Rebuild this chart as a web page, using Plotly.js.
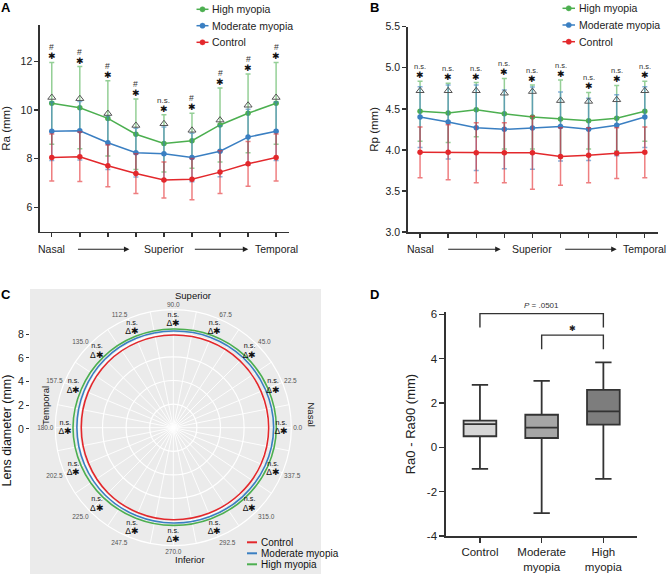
<!DOCTYPE html>
<html><head><meta charset="utf-8">
<script src="https://cdn.plot.ly/plotly-3.0.1.min.js"></script>
<style>html,body{margin:0;padding:0;background:#fff}#chart{width:669px;height:574px}</style>
</head><body><div id="chart"></div>
<script>
// ---------- data ----------
const meridians = ['0','22.5','45','67.5','90','112.5','135','157.5','180'];
const seriesNames = ['High myopia','Moderate myopia','Control'];

// Panel A : Ra (mm)
const raHigh    = [10.28, 10.10, 9.66, 9.01, 8.63, 8.74, 9.39, 9.87, 10.28];
const raHighSd  = [1.68, 1.69, 1.55, 1.45, 1.18, 1.13, 1.52, 1.62, 1.68];
const raMod     = [9.13, 9.15, 8.66, 8.25, 8.21, 8.05, 8.31, 8.89, 9.13];
const raModSd   = [1.20, 1.20, 1.10, 1.00, 1.10, 1.00, 1.05, 1.15, 1.20];
const raCtrl    = [8.05, 8.08, 7.71, 7.39, 7.13, 7.16, 7.45, 7.79, 8.05];
const raCtrlSd  = [0.97, 1.02, 0.86, 0.82, 0.74, 0.85, 0.88, 0.92, 0.97];
const raTri     = [10.52, 10.47, 9.86, 9.37, 9.44, 9.17, 9.59, 10.20, 10.52];
const raTopMark = ['#','#','#','#','n.s.','#','#','#','#'];

// Panel B : Rp (mm)
const rpHigh    = [4.47, 4.45, 4.49, 4.44, 4.40, 4.375, 4.355, 4.385, 4.47];
const rpHighSd  = [0.365, 0.36, 0.33, 0.43, 0.39, 0.475, 0.345, 0.40, 0.365];
const rpMod     = [4.40, 4.34, 4.27, 4.25, 4.265, 4.285, 4.25, 4.30, 4.40];
const rpModSd   = [0.37, 0.45, 0.52, 0.48, 0.50, 0.42, 0.38, 0.37, 0.37];
const rpCtrl    = [3.97, 3.97, 3.965, 3.965, 3.965, 3.92, 3.935, 3.96, 3.97];
const rpCtrlSd  = [0.31, 0.335, 0.365, 0.365, 0.445, 0.35, 0.335, 0.31, 0.31];
const rpTri     = [4.72, 4.72, 4.72, 4.69, 4.71, 4.60, 4.59, 4.61, 4.72];
const rpTopMark = ['n.s.','n.s.','n.s.','n.s.','n.s.','n.s.','n.s.','n.s.','n.s.'];

// Panel C : lens diameter by angle
const cAngles = [0,22.5,45,67.5,90,112.5,135,157.5,180,202.5,225,247.5,270,292.5,315,337.5,360];
const cCtrl = [8.08,8.05,8.00,7.92,7.85,7.85,7.85,7.82,7.80,7.80,7.82,7.80,7.80,7.85,7.95,8.05,8.08];
const cMod  = [8.50,8.45,8.38,8.28,8.19,8.20,8.20,8.18,8.17,8.15,8.12,8.08,8.08,8.15,8.28,8.42,8.50];
const cHigh = [8.73,8.68,8.60,8.48,8.36,8.38,8.42,8.45,8.50,8.45,8.38,8.30,8.28,8.35,8.50,8.65,8.73];
const cLabelAngles = [0,22.5,45,67.5,90,112.5,135,157.5,180,202.5,225,247.5,270,292.5,315,337.5];
const cMarkTop = cLabelAngles.map(() => 'n.s.');
const cMarkBottom = cLabelAngles.map(() => 'Δ✱');
const cSpokes = [];
for (let a = 0; a < 360; a += 11.25) cSpokes.push(a);
const cSpokeText = cSpokes.map(a => (a % 22.5 === 0) ? a.toFixed(1) : '');

// Panel D : Ra0 - Ra90 box plot
const dGroups = ['Control','Moderate<br>myopia','High<br>myopia'];
const dLower  = [-0.97, -2.97, -1.42];
const dQ1     = [0.50, 0.42, 1.02];
const dMedian = [1.05, 0.89, 1.62];
const dQ3     = [1.20, 1.47, 2.59];
const dUpper  = [2.82, 3.00, 3.83];
const dFill   = ['#d6d6d6','#a6a6a6','#7d7d7d'];

// ---------- helpers ----------
const W = 669, H = 574;
const X = v => v / W, Y = v => 1 - v / H;
const FONT = 'Liberation Sans, Arial, Helvetica, sans-serif';
const GREEN = '#4caf50', BLUE = '#3a7fc2', RED = '#e3282c';
const colors = [GREEN, BLUE, RED];
const errColors = ['rgba(76,175,80,0.6)','rgba(58,127,194,0.6)','rgba(227,40,44,0.6)'];

const traces = [];
function lineSeries(vals, sds, i, xa, ya) {
  traces.push({
    type:'scatter', mode:'lines+markers', x: meridians, y: vals,
    xaxis: xa, yaxis: ya, name: seriesNames[i], showlegend:false,
    line:{color:colors[i], width:1.5}, marker:{color:colors[i], size:5.5},
    error_y:{type:'data', array:sds, visible:true, color:errColors[i], thickness:1.5, width:2.5}
  });
}
lineSeries(raHigh, raHighSd, 0, 'x', 'y');
lineSeries(raMod, raModSd, 1, 'x', 'y');
lineSeries(raCtrl, raCtrlSd, 2, 'x', 'y');
traces.push({type:'scatter', mode:'markers', x:meridians, y:raTri, xaxis:'x', yaxis:'y', showlegend:false,
  marker:{symbol:'triangle-up-open', size:7, color:'#555', line:{width:1}}});
lineSeries(rpHigh, rpHighSd, 0, 'x2', 'y2');
lineSeries(rpMod, rpModSd, 1, 'x2', 'y2');
lineSeries(rpCtrl, rpCtrlSd, 2, 'x2', 'y2');
traces.push({type:'scatter', mode:'markers', x:meridians, y:rpTri, xaxis:'x2', yaxis:'y2', showlegend:false,
  marker:{symbol:'triangle-up-open', size:7, color:'#555', line:{width:1}}});

// C polar
[cHigh, cMod, cCtrl].forEach((r, i) => {
  traces.push({type:'scatterpolar', subplot:'polar', mode:'lines', r:r, theta:cAngles,
    name: seriesNames[i], showlegend:false, line:{color:colors[i], width:1.6, shape:'spline'}});
});
const cLabelR = cLabelAngles.map(() => 9.15);
const cLabelText = cLabelAngles.map((a, i) =>
  cMarkTop[i] + '<br><span style="font-size:8.5px">' + cMarkBottom[i] + '</span>');
traces.push({type:'scatterpolar', subplot:'polar', mode:'text', r:cLabelR, theta:cLabelAngles,
  text:cLabelText, textposition:'middle center', textfont:{size:7.2, color:'#111'}, showlegend:false});
traces.push({type:'scatter', x:[], y:[], xaxis:'x3', yaxis:'y3', showlegend:false, hoverinfo:'skip'});

// D boxes
dGroups.forEach((g, i) => {
  traces.push({type:'box', x:[g], q1:[dQ1[i]], median:[dMedian[i]], q3:[dQ3[i]],
    lowerfence:[dLower[i]], upperfence:[dUpper[i]], xaxis:'x4', yaxis:'y4',
    fillcolor:dFill[i], line:{color:'#333', width:1.8}, whiskerwidth:0.5, width:0.53,
    boxpoints:false, showlegend:false});
});

// ---------- annotations ----------
const ann = [];
function markAnn(vals, sds, tops, xa, ya, starFont, topFont) {
  meridians.forEach((m, i) => {
    const yTop = vals[i] + sds[i];
    ann.push({x:i, y:yTop, xref:xa, yref:ya, text:'✱', showarrow:false, yanchor:'bottom',
      yshift:-1, font:{size:starFont, color:'#111'}});
    ann.push({x:i, y:yTop, xref:xa, yref:ya, text:tops[i], showarrow:false, yanchor:'bottom',
      yshift:8, font:{size:tops[i]==='n.s.'?topFont:8.5, color:'#333'}});
  });
}
markAnn(raHigh, raHighSd, raTopMark, 'x', 'y', 9, 8);
markAnn(rpHigh, rpHighSd, rpTopMark, 'x2', 'y2', 9, 7.5);

// x-axis direction labels
function dirLabels(xa, headA, tailA, headB, tailB) {
  const yy = Y(249.3);
  [['Nasal',0],['Superior',4],['Temporal',8]].forEach(([t, k]) => {
    ann.push({x:k, y:yy, xref:xa, yref:'paper', text:t, showarrow:false,
      font:{size:10.5, color:'#222'}, yanchor:'middle'});
  });
  ann.push({x:headA, y:yy, xref:xa, yref:'paper', ax:tailA, ay:0, axref:'pixel', ayref:'pixel',
    text:'', showarrow:true, arrowhead:2, arrowsize:1, arrowwidth:1.1, arrowcolor:'#222'});
  ann.push({x:headB, y:yy, xref:xa, yref:'paper', ax:tailB, ay:0, axref:'pixel', ayref:'pixel',
    text:'', showarrow:true, arrowhead:2, arrowsize:1, arrowwidth:1.1, arrowcolor:'#222'});
}
dirLabels('x', 2.77, -53, 7.01, -55);
dirLabels('x2', 2.87, -54, 7.0, -53);

// panel letters
[['A',6.5,7.5],['B',375,8],['C',6,294.5],['D',375,294.5]].forEach(([t, x, y]) => {
  ann.push({x:X(x), y:Y(y), xref:'paper', yref:'paper', text:'<b>'+t+'</b>', showarrow:false,
    font:{size:13, color:'#000'}, xanchor:'center', yanchor:'middle'});
});

// polar side labels
ann.push({x:X(173.3), y:Y(295), xref:'paper', yref:'paper', text:'Superior', showarrow:false, font:{size:9.5,color:'#111'}});
ann.push({x:X(173.3), y:Y(567), xref:'paper', yref:'paper', text:'Inferior', showarrow:false, font:{size:9.5,color:'#111'}});
ann.push({x:X(311.5), y:Y(428), xref:'paper', yref:'paper', text:'Nasal', textangle:90, showarrow:false, font:{size:9.5,color:'#111'}});
ann.push({x:X(37.5), y:Y(427.5), xref:'paper', yref:'paper', text:'Temporal', textangle:-90, showarrow:false, font:{size:9.5,color:'#111'}});

// D significance labels
ann.push({x:1, y:6.1, xref:'x4', yref:'y4', text:'<i>P</i> = .0501', showarrow:false, yanchor:'bottom', font:{size:8, color:'#333'}});
ann.push({x:1.5, y:5.08, xref:'x4', yref:'y4', text:'✱', showarrow:false, yanchor:'bottom', font:{size:7.5, color:'#222'}});

// ---------- manual legends ----------
const shapes = [];
shapes.push({type:'rect', xref:'paper', yref:'paper', x0:X(30), x1:X(321), y0:Y(574), y1:Y(289),
  fillcolor:'#ebebeb', line:{width:0}, layer:'below'});
function legend(rows, gx0, gx1, tx, marker, fs) {
  rows.forEach((yy, i) => {
    shapes.push({type:'line', xref:'paper', yref:'paper', x0:X(gx0), x1:X(gx1), y0:Y(yy), y1:Y(yy),
      line:{color:colors[i], width:marker?1.5:2}});
    if (marker) {
      const cx = (gx0 + gx1) / 2;
      shapes.push({type:'circle', xref:'paper', yref:'paper', x0:X(cx-2.6), x1:X(cx+2.6), y0:Y(yy+2.6), y1:Y(yy-2.6),
        fillcolor:colors[i], line:{color:colors[i], width:0.5}});
    }
    ann.push({x:X(tx), y:Y(yy), xref:'paper', yref:'paper', text:seriesNames[i], showarrow:false,
      xanchor:'left', yanchor:'middle', font:{size:fs, color:'#222'}});
  });
}
legend([9.3, 25.7, 42.3], 196.5, 208.5, 209.5, true, 10.5);
legend([8.3, 25, 41.7], 562.5, 575, 576.5, true, 10.5);
// C legend order: Control, Moderate, High
[[2,542.3],[1,553.3],[0,564.3]].forEach(([i, yy]) => {
  shapes.push({type:'line', xref:'paper', yref:'paper', x0:X(247), x1:X(257), y0:Y(yy), y1:Y(yy),
    line:{color:colors[i], width:2}});
  ann.push({x:X(258.5), y:Y(yy), xref:'paper', yref:'paper', text:seriesNames[i], showarrow:false,
    xanchor:'left', yanchor:'middle', font:{size:10, color:'#111'}});
});

// D brackets
shapes.push({type:'path', xref:'x4', yref:'y4', path:'M 0,5.41 L 0,6.03 L 2,6.03 L 2,5.41', line:{color:'#333', width:1.4}});
shapes.push({type:'path', xref:'x4', yref:'y4', path:'M 1,4.42 L 1,5.06 L 2,5.06 L 2,4.42', line:{color:'#333', width:1.4}});

// ---------- layout ----------
const axisBase = {showline:true, linecolor:'#333', linewidth:1.6, ticks:'outside', ticklen:4, tickwidth:1.4,
  tickcolor:'#333', showgrid:false, zeroline:false, tickfont:{size:10.5, color:'#222'}};
const layout = {
  width:W, height:H, margin:{l:0, r:0, t:0, b:0},
  paper_bgcolor:'#fff', plot_bgcolor:'rgba(0,0,0,0)', showlegend:false,
  font:{family:FONT, color:'#222'}, boxmode:'overlay',
  xaxis:Object.assign({}, axisBase, {type:'category', domain:[X(40), X(289)], range:[-0.42, 8.46], anchor:'y', showticklabels:false}),
  yaxis:Object.assign({}, axisBase, {domain:[Y(231.7), Y(25)], range:[5, 13.5], anchor:'x', tickvals:[6,8,10,12],
    title:{text:'Ra (mm)', font:{size:11.5, color:'#222'}, standoff:8}}),
  xaxis2:Object.assign({}, axisBase, {type:'category', domain:[X(407.7), X(658)], range:[-0.44, 8.47], anchor:'y2', showticklabels:false}),
  yaxis2:Object.assign({}, axisBase, {domain:[Y(232), Y(26.7)], range:[3, 5.5], anchor:'x2', tickvals:[3,3.5,4,4.5,5,5.5], tickformat:'.1f',
    title:{text:'Rp (mm)', font:{size:11.5, color:'#222'}, standoff:4}}),
  xaxis3:{domain:[X(30), X(321)], range:[0,1], visible:false, anchor:'y3'},
  yaxis3:{domain:[Y(572), Y(289)], range:[-12.08, 11.82], anchor:'x3', tickvals:[0,2,4,6,8], ticks:'outside', ticklen:3,
    tickwidth:1, tickcolor:'#333', showline:false, showgrid:false, zeroline:false, tickfont:{size:10.5, color:'#222'},
    title:{text:'Lens diameter (mm)', font:{size:12.5, color:'#111'}, standoff:7}},
  xaxis4:Object.assign({}, axisBase, {type:'category', domain:[X(446), X(636.7)], range:[-0.55, 2.54], anchor:'y4', ticklen:5,
    tickfont:{size:11.5, color:'#222'}, ticklabelstandoff:0}),
  yaxis4:Object.assign({}, axisBase, {domain:[Y(536), Y(312.1)], range:[-4, 6.1], anchor:'x4', ticklen:5,
    tickvals:[-4,-2,0,2,4,6], ticktext:['-4','-2','0','2','4','6'], tickfont:{size:11.5, color:'#222'},
    title:{text:'Ra0 - Ra90 (mm)', font:{size:13, color:'#222'}, standoff:8}}),
  polar:{
    domain:{x:[X(55.3), X(291.3)], y:[Y(545.7), Y(309.7)]},
    bgcolor:'#ebebeb',
    radialaxis:{range:[0,10], tickvals:[2,4,6,8,10], showticklabels:false, ticks:'', showline:false,
      gridcolor:'#ffffff', gridwidth:1.2},
    angularaxis:{rotation:0, direction:'counterclockwise', tickvals:cSpokes, ticktext:cSpokeText, ticks:'',
      tickfont:{size:6.5, color:'#555'}, showline:true, linecolor:'#ffffff', linewidth:1.2,
      gridcolor:'#ffffff', gridwidth:0.9}
  },
  annotations:ann, shapes:shapes
};
Plotly.newPlot('chart', traces, layout, {displayModeBar:false, staticPlot:true});
</script></body></html>
